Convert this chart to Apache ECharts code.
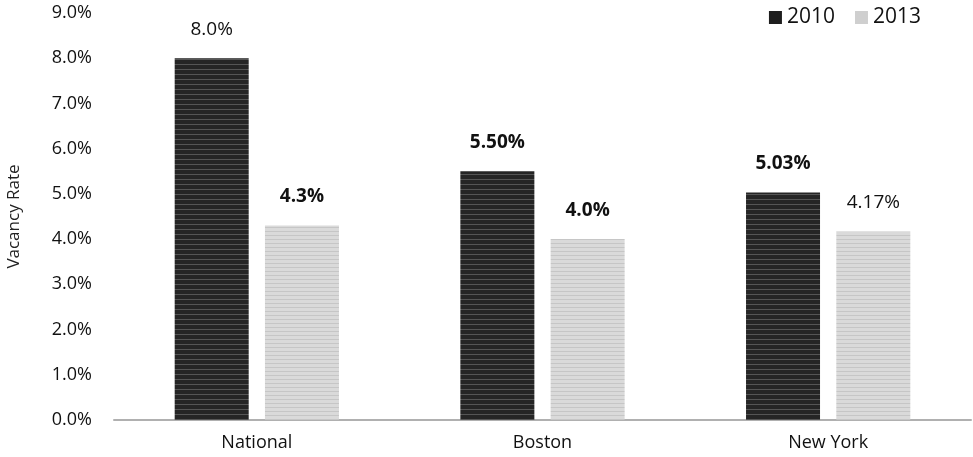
<!DOCTYPE html>
<html>
<head>
<meta charset="utf-8">
<script src="https://cdn.jsdelivr.net/npm/echarts@6/dist/echarts.min.js"></script>
<style>
  html, body { margin: 0; padding: 0; background: #fff; }
  #chart { width: 973px; height: 457px; }
</style>
</head>
<body>
<div id="chart"></div>
<script>
const categories = ['National', 'Boston', 'New York'];
const years = ['2010', '2013'];
const values2010 = [8.0, 5.50, 5.03];
const values2013 = [4.3, 4.0, 4.17];
const labels2010 = ['8.0%', '5.50%', '5.03%'];
const labels2013 = ['4.3%', '4.0%', '4.17%'];
const bold2010 = [false, true, true];
const bold2013 = [true, true, false];
const yTicks = ['0.0%', '1.0%', '2.0%', '3.0%', '4.0%', '5.0%', '6.0%', '7.0%', '8.0%', '9.0%'];

// Striped fill textures for the bars
function stripes(base, line, h) {
  const c = document.createElement('canvas');
  c.width = 8; c.height = h;
  const g = c.getContext('2d');
  g.fillStyle = base; g.fillRect(0, 0, 8, h);
  g.fillStyle = line; g.fillRect(0, h - 1, 8, 1);
  return c;
}
const darkFill = { image: stripes('#252525', '#555555', 5), repeat: 'repeat' };
const lightFill = { image: stripes('#dadada', '#c6c6c6', 4), repeat: 'repeat' };

const font = '"Open Sans", "Liberation Sans", sans-serif';

function seriesData(vals, labels, bolds) {
  return vals.map((v, i) => ({
    value: v,
    label: { formatter: labels[i], fontWeight: bolds[i] ? 'bold' : 'normal' }
  }));
}

const barLabel = { show: true, position: 'top', distance: 19, fontSize: 19, color: '#111', fontFamily: font };

const chart = echarts.init(document.getElementById('chart'), null, { renderer: 'canvas' });
chart.setOption({
  animation: false,
  backgroundColor: '#fff',
  textStyle: { fontFamily: font },
  grid: { left: 114, right: 2, top: 13, bottom: 37, containLabel: false, outerBoundsMode: 'none' },
  legend: {
    top: 2, right: 47,
    itemWidth: 13, itemHeight: 13, itemGap: 20,
    icon: 'rect',
    textStyle: { fontSize: 21, color: '#111', fontFamily: font },
    data: [
      { name: years[0], itemStyle: { color: '#1e1e1e' } },
      { name: years[1], itemStyle: { color: '#cfcfcf' } }
    ]
  },
  xAxis: {
    type: 'category',
    data: categories,
    axisLine: { lineStyle: { color: '#b0b0b0', width: 2 } },
    axisTick: { show: false },
    axisLabel: { fontSize: 18, color: '#111', margin: 14, fontFamily: font }
  },
  yAxis: {
    type: 'value',
    min: 0, max: 9, interval: 1,
    name: 'Vacancy Rate',
    nameLocation: 'middle',
    nameGap: 91,
    nameTextStyle: { fontSize: 17, color: '#222', fontFamily: font },
    splitLine: { show: false },
    axisLine: { show: false },
    axisTick: { show: false },
    axisLabel: {
      fontSize: 18, color: '#111', margin: 22, fontFamily: font,
      formatter: v => yTicks[Math.round(v)]
    }
  },
  series: [
    {
      name: years[0], type: 'bar',
      data: seriesData(values2010, labels2010, bold2010),
      itemStyle: { color: darkFill },
      barWidth: 74, barGap: '22%',
      label: barLabel
    },
    {
      name: years[1], type: 'bar',
      data: seriesData(values2013, labels2013, bold2013),
      itemStyle: { color: lightFill },
      barWidth: 74, barGap: '22%',
      label: barLabel
    }
  ]
});
</script>
</body>
</html>
